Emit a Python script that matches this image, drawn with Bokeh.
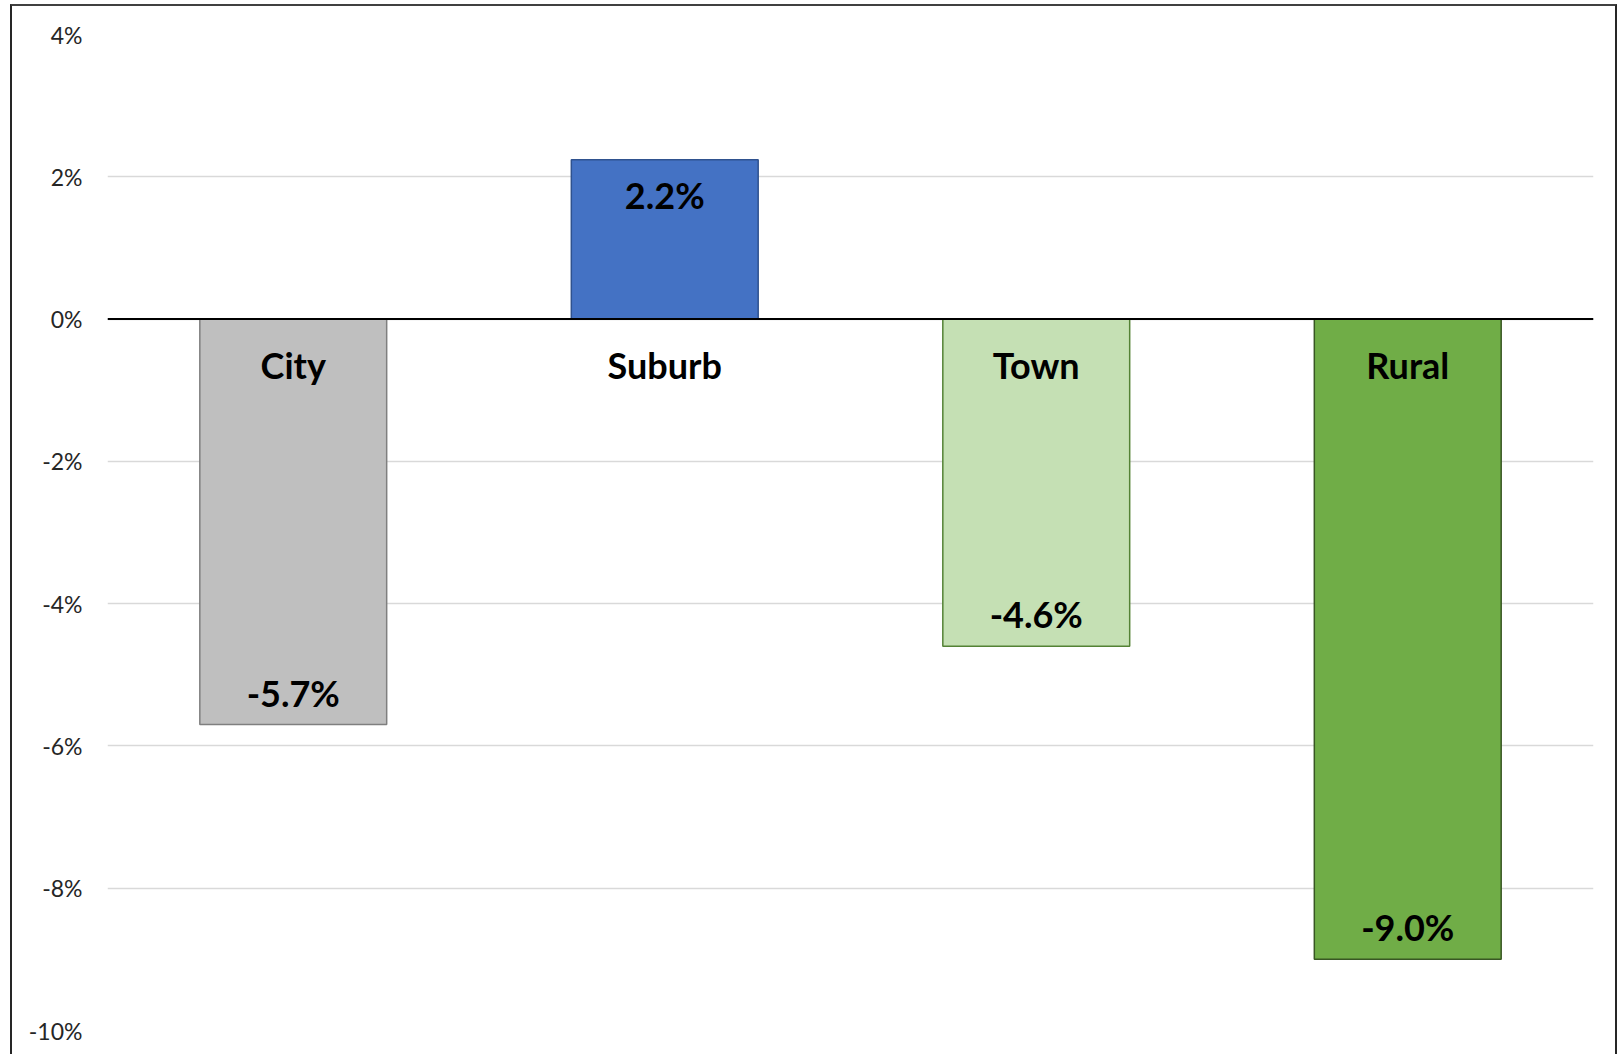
from bokeh.plotting import figure
from bokeh.models import ColumnDataSource, FixedTicker, PrintfTickFormatter, Span, Range1d
from bokeh.core.properties import value
from bokeh.embed import file_html
from bokeh.resources import INLINE

categories = ["City", "Suburb", "Town", "Rural"]
values = [-5.7, 2.24, -4.6, -9.0]
labels = ["-5.7%", "2.2%", "-4.6%", "-9.0%"]
fill_colors = ["#BFBFBF", "#4472C4", "#C5E0B4", "#70AD47"]
line_colors = ["#7F7F7F", "#2F528F", "#548235", "#385723"]
y_ticks = [-10, -8, -6, -4, -2, 0, 2, 4]

FONT = "Lato"

src = ColumnDataSource(dict(
    cat=categories,
    val=values,
    lab=labels,
    fill=fill_colors,
    line=line_colors,
    zero=[0] * len(categories),
    voff=[35 if v > 0 else -32 for v in values],
))

W, H = 1607, 1050
p = figure(x_range=categories, y_range=Range1d(-10, 4),
           width=W, height=H, output_backend="svg", toolbar_location=None,
           min_border_left=95, min_border_top=28, min_border_right=26, min_border_bottom=26)
p.styles = {"margin-left": "10px", "margin-top": "4px",
            "border-top": "2px solid #404040", "border-left": "2px solid #262626",
            "border-right": "2px solid #262626"}

p.vbar(x="cat", top="val", bottom=0, width=0.503, source=src,
       fill_color="fill", line_color="line", line_width=1.5)

p.add_layout(Span(location=0, dimension="width", line_color="black", line_width=2))

p.text(x="cat", y="zero", text="cat", source=src, text_align="center",
       text_baseline="middle", y_offset=46, text_font=value(FONT),
       text_font_style="bold", text_font_size="36px", text_color="black")
p.text(x="cat", y="val", text="lab", source=src, text_align="center",
       text_baseline="middle", y_offset="voff", text_font=value(FONT),
       text_font_style="bold", text_font_size="36px", text_color="black")

p.xaxis.visible = False
p.yaxis.ticker = FixedTicker(ticks=y_ticks)
p.yaxis.formatter = PrintfTickFormatter(format="%d%%")
p.yaxis.axis_line_color = None
p.yaxis.major_tick_line_color = None
p.yaxis.minor_tick_line_color = None
p.yaxis.major_tick_out = 0
p.yaxis.major_label_standoff = 25
p.yaxis.major_label_text_font = FONT
p.yaxis.major_label_text_font_size = "23px"
p.yaxis.major_label_text_color = "#262626"

p.xgrid.grid_line_color = None
p.ygrid.ticker = FixedTicker(ticks=y_ticks)
p.ygrid.grid_line_color = "#D9D9D9"
p.ygrid.grid_line_width = 1.5
p.outline_line_color = None
p.background_fill_color = "white"
p.border_fill_color = "white"

open("out.html", "w").write(file_html(p, INLINE))
